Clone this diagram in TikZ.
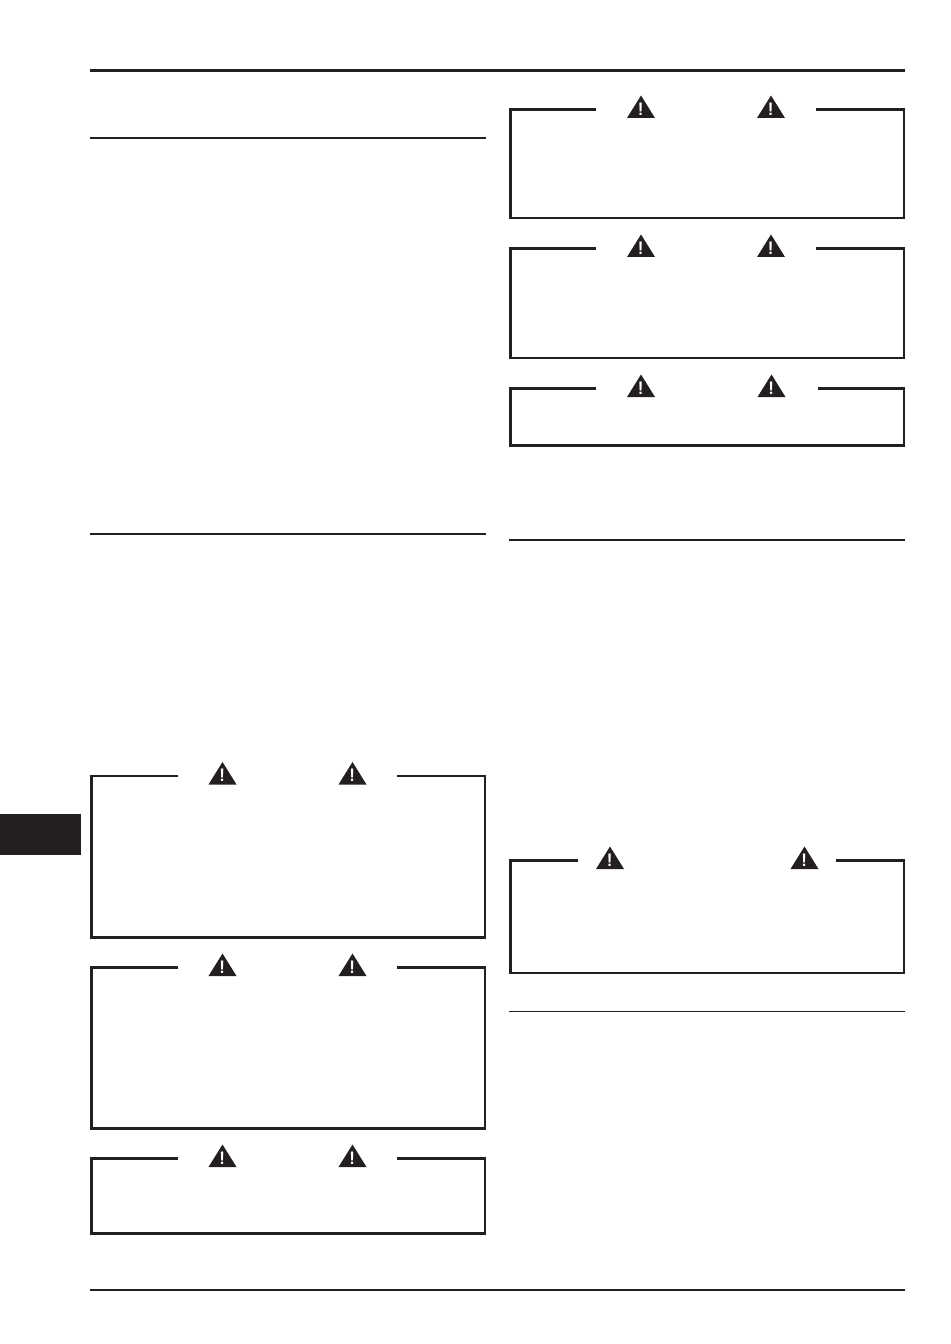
\documentclass[tikz,border=0pt]{standalone}
\definecolor{inkblack}{HTML}{231F20}
\tikzset{
	boxline/.style={draw=inkblack, line width=1.6pt, line cap=butt, miter limit=10},
	rule/.style={draw=inkblack, line width=1.5pt},
	warnmark/.style={text=white, font=\sffamily\bfseries\fontsize{13.5}{14}\selectfont, inner sep=0pt},
}
% x1, x2, top, bottom, gap left, gap right, left sign, right sign
\newcommand{\warnbox}[8]{
	\draw [boxline] (#5,#3) -- (#1,#3) -- (#1,#4) -- (#2,#4) -- (#2,#3) -- (#6,#3);
	\warnsign{#7}{#3}
	\warnsign{#8}{#3}
}
\newcommand{\warnsign}[2]{
	\fill [inkblack] (#1,#2-14) -- (#1+14,#2+8.5) -- (#1-14,#2+8.5) -- cycle;
	\node [warnmark] at (#1-0.3,#2-0.5) {!};
}
\begin{document}
\begin{tikzpicture}[x=0.75pt, y=-0.75pt]
	\useasboundingbox (0,0) rectangle (950,1344);
	%page rules
	\draw [rule, line width=2.25pt] (90,70.5) -- (905,70.5);
	\draw [rule] (90,138) -- (486,138);
	\draw [rule] (90,534) -- (486,534);
	\draw [rule] (509,540) -- (905,540);
	\draw [rule, line width=1pt] (509,1011.5) -- (905,1011.5);
	\draw [rule] (90,1290) -- (905,1290);
	%thumb tab
	\fill [inkblack] (0,814) rectangle (81,855);
	%left column
	\warnbox{91.5}{485}{776}{937.5}{178}{397}{222.5}{352.5}
	\warnbox{91.5}{485}{967.5}{1128.5}{178}{397}{222.5}{352.5}
	\warnbox{91.5}{485}{1158.5}{1233.5}{178}{397}{222.5}{352.5}
	%right column
	\warnbox{510.5}{904}{109.5}{218}{596}{816}{641}{771}
	\warnbox{510.5}{904}{248.5}{358}{596}{816}{641}{771}
	\warnbox{510.5}{904}{388.5}{445.5}{596}{818}{641}{771.5}
	\warnbox{510.5}{904}{860.5}{973}{578}{836}{610}{804.5}
\end{tikzpicture}
\end{document}
